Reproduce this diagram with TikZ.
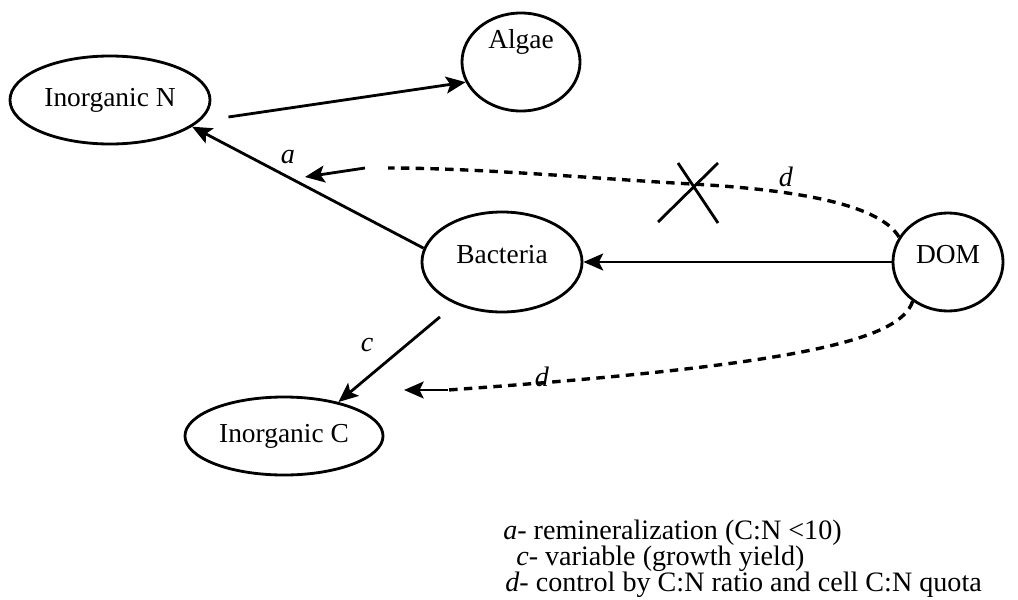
\documentclass[tikz,border=0pt]{standalone}
\usepackage{fontspec}
\setmainfont{Liberation Serif}
\usetikzlibrary{shapes.geometric,arrows.meta}

\tikzset{
  pool/.style={ellipse, draw, line width=2pt, inner sep=0pt, font=\fontsize{19.5}{23}\selectfont},
  lift/.style={text depth=#1},
  flow/.style={-{Stealth[length=14pt,width=12pt,inset=3pt]}, line width=2pt},
  ctrl/.style={line width=2.4pt, dash pattern=on 6pt off 4.5pt},
  lbl/.style={font=\fontsize{20}{24}\selectfont\itshape},
  key/.style={anchor=base west, inner sep=0pt, font=\fontsize{20}{24}\selectfont}
}

\begin{document}
\begin{tikzpicture}[x=0.025cm, y=-0.025cm]
\useasboundingbox (0,0) rectangle (1018,599);

% pools
\node[pool, minimum width=5cm, minimum height=2.2cm] (inorgN) at (110,100) {Inorganic N};
\node[pool, minimum width=2.95cm, minimum height=2.45cm, lift=1.15cm] (algae) at (521,62) {Algae};
\node[pool, minimum width=4cm, minimum height=2.5cm, lift=0.4cm] (bact) at (502,262) {Bacteria};
\node[pool, minimum width=2.75cm, minimum height=2.45cm, lift=0.4cm] (dom) at (948,262) {DOM};
\node[pool, minimum width=4.95cm, minimum height=1.95cm] (inorgC) at (284,436) {Inorganic C};

% uptake and remineralization
\draw[flow] ([shift={(17,17)}]inorgN.east) -- (algae.200); % N uptake by algae
\draw[flow] (bact.170) -- (inorgN.-18); % a
\draw[flow] (dom) -- (bact); % DOM uptake
\draw[flow, shorten <=0.5cm] (bact.222) -- (inorgC.32); % c

% control d, blocked path
\coordinate (dEnd) at (388,168);
\coordinate (aTail) at (365,168);
\coordinate (aHead) at (305,177);
\draw[ctrl] (dom.153) .. controls (880,205) and (800,190) .. (692,184)
  .. controls (600,179) and (480,168) .. (dEnd);
\draw[flow] (aTail) -- (aHead);
\draw[line width=2pt] (658,222) -- (718,163) (678,163) -- (718,223); % cross

% control d, lower path
\coordinate (cEnd) at (448,390);
\coordinate (cHead) at (404,390);
\draw[ctrl] (dom.228) .. controls (900,340) and (800,365) .. (cEnd);
\draw[flow] (cEnd) -- (cHead);

% letters
\node[lbl] (la) at (288,157) {a};
\node[lbl] (lc) at (367,345) {c};
\node[lbl] (ld1) at (786,177) {d};
\node[lbl] (ld2) at (542,377) {d};

% key
\node[key] (keyA) at (503,539) {\textit{a}- remineralization (C:N <10)};
\node[key] (keyC) at (516,565) {\textit{c}- variable (growth yield)};
\node[key] (keyD) at (505,591) {\textit{d}- control by C:N ratio and cell C:N quota};

\end{tikzpicture}
\end{document}
